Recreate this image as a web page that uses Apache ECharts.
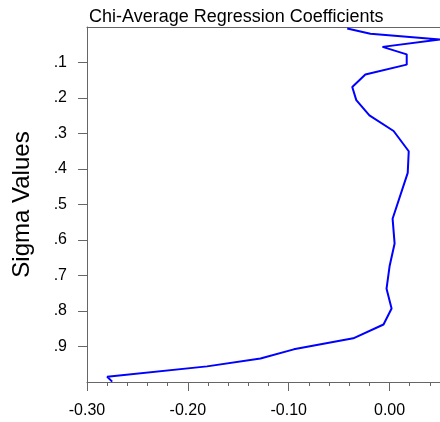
<!DOCTYPE html>
<html>
<head>
<meta charset="utf-8">
<script src="https://cdn.jsdelivr.net/npm/echarts@6/dist/echarts.min.js"></script>
<style>
  html, body { margin: 0; padding: 0; background: #fff; }
  #chart { width: 440px; height: 422px; }
</style>
</head>
<body>
<div id="chart"></div>
<script>
// Data
const coefficients = [-0.042, -0.019, 0.050, -0.007, 0.017, 0.017, -0.024, -0.037, -0.033, -0.020, 0.004, 0.019, 0.018, 0.003, 0.005, 0.000, -0.003, 0.002, -0.006, -0.036, -0.095, -0.128, -0.181, -0.280, -0.275];
const sigmaLevels  = [0.004, 0.019, 0.035, 0.056, 0.077, 0.106, 0.134, 0.169, 0.206, 0.249, 0.293, 0.350, 0.411, 0.540, 0.610, 0.674, 0.737, 0.793, 0.838, 0.877, 0.908, 0.934, 0.956, 0.985, 0.999];
const xTickValues = [-0.30, -0.20, -0.10, 0.00];
const yTickValues = [0.1, 0.2, 0.3, 0.4, 0.5, 0.6, 0.7, 0.8, 0.9];
const titleText = 'Chi-Average Regression Coefficients';
const yAxisName = 'Sigma Values';

const FONT = 'Liberation Sans, Arial, Helvetica, sans-serif';
const AXIS_COLOR = '#666';

const chart = echarts.init(document.getElementById('chart'), null, { renderer: 'canvas' });
const seriesData = coefficients.map((c, i) => [c, sigmaLevels[i]]);

chart.setOption({
  animation: false,
  backgroundColor: '#fff',
  title: {
    text: titleText,
    left: 84,
    top: 3,
    textStyle: { fontFamily: FONT, fontSize: 18, fontWeight: 'normal', color: '#000' }
  },
  grid: { left: 87, right: 0, top: 27, bottom: 40, containLabel: false },
  xAxis: [
    {
      type: 'value', position: 'bottom', min: -0.30, max: 0.05, interval: 0.02,
      splitLine: { show: false },
      axisLine: { show: true, onZero: false, lineStyle: { color: AXIS_COLOR, width: 1 } },
      axisTick: { show: true, inside: false, length: 4, lineStyle: { color: AXIS_COLOR } },
      axisLabel: {
        show: true, customValues: xTickValues, margin: 21,
        fontFamily: FONT, fontSize: 16, color: '#000',
        formatter: v => v.toFixed(2)
      }
    },
    {
      type: 'value', position: 'bottom', min: -0.30, max: 0.05, interval: 0.1,
      splitLine: { show: false },
      axisLine: { show: false, onZero: false },
      axisTick: { show: true, inside: false, length: 9, customValues: xTickValues, lineStyle: { color: AXIS_COLOR } },
      axisLabel: { show: false }
    },
    {
      type: 'value', position: 'top', min: -0.30, max: 0.05, interval: 0.1,
      splitLine: { show: false },
      axisLine: { show: true, onZero: false, lineStyle: { color: AXIS_COLOR, width: 1 } },
      axisTick: { show: false },
      axisLabel: { show: false }
    }
  ],
  yAxis: {
    type: 'value', position: 'left', inverse: true, min: 0, max: 1, interval: 0.1,
    name: yAxisName, nameLocation: 'middle', nameRotate: 90, nameGap: 53,
    nameTextStyle: { fontFamily: FONT, fontSize: 24, color: '#000' },
    splitLine: { show: false },
    axisLine: { show: true, onZero: false, lineStyle: { color: AXIS_COLOR, width: 1 } },
    axisTick: { show: true, inside: false, length: 9, customValues: yTickValues, lineStyle: { color: AXIS_COLOR } },
    axisLabel: {
      show: true, customValues: yTickValues, margin: 20,
      fontFamily: FONT, fontSize: 16, color: '#000',
      formatter: v => '.' + Math.round(v * 10)
    }
  },
  series: [{
    type: 'line',
    xAxisIndex: 0,
    data: seriesData,
    showSymbol: false,
    symbol: 'none',
    clip: true,
    lineStyle: { color: '#0000ff', width: 2 },
    itemStyle: { color: '#0000ff' }
  }]
});
</script>
</body>
</html>
